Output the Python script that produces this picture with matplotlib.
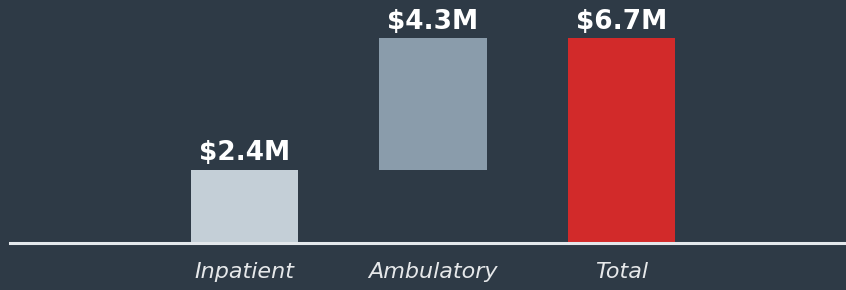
import matplotlib.pyplot as plt

# Waterfall: Inpatient + Ambulatory = Total
categories = ['Inpatient', 'Ambulatory', 'Total']
values = [2.4, 4.3, 6.7]
bottoms = [0, 2.4, 0]
labels = ['$2.4M', '$4.3M', '$6.7M']
colors = ['#c4cfd7', '#8a9cab', '#d22a2a']

bg = '#2e3a46'

fig = plt.figure(figsize=(8.46, 2.90), dpi=100, facecolor=bg)
ax = fig.add_axes([0, 47 / 290, 1, 243 / 290])
ax.set_facecolor(bg)

ax.bar(range(len(categories)), values, bottom=bottoms, width=0.57,
       color=colors, zorder=2)

for i, (v, b, lab) in enumerate(zip(values, bottoms, labels)):
    ax.text(i, v + b + 0.1, lab, ha='center', va='bottom', color='white',
            fontsize=19, fontweight='bold', family='DejaVu Sans')

ax.axhline(0, xmin=10 / 846, xmax=1, color='#e4e8ec', lw=2.2, zorder=3,
           clip_on=False)

ax.set_xlim(-244.5 / 188.5, (846 - 244.5) / 188.5)
ax.set_ylim(0, 243 / 30.6)
ax.set_xticks(range(len(categories)))
ax.set_xticklabels(categories, fontsize=16, style='italic', color='#e6e8ea',
                   family='DejaVu Sans')
ax.tick_params(axis='x', length=0, pad=14)
ax.set_yticks([])
for s in ax.spines.values():
    s.set_visible(False)

fig.savefig('out.png', dpi=100, facecolor=bg)
